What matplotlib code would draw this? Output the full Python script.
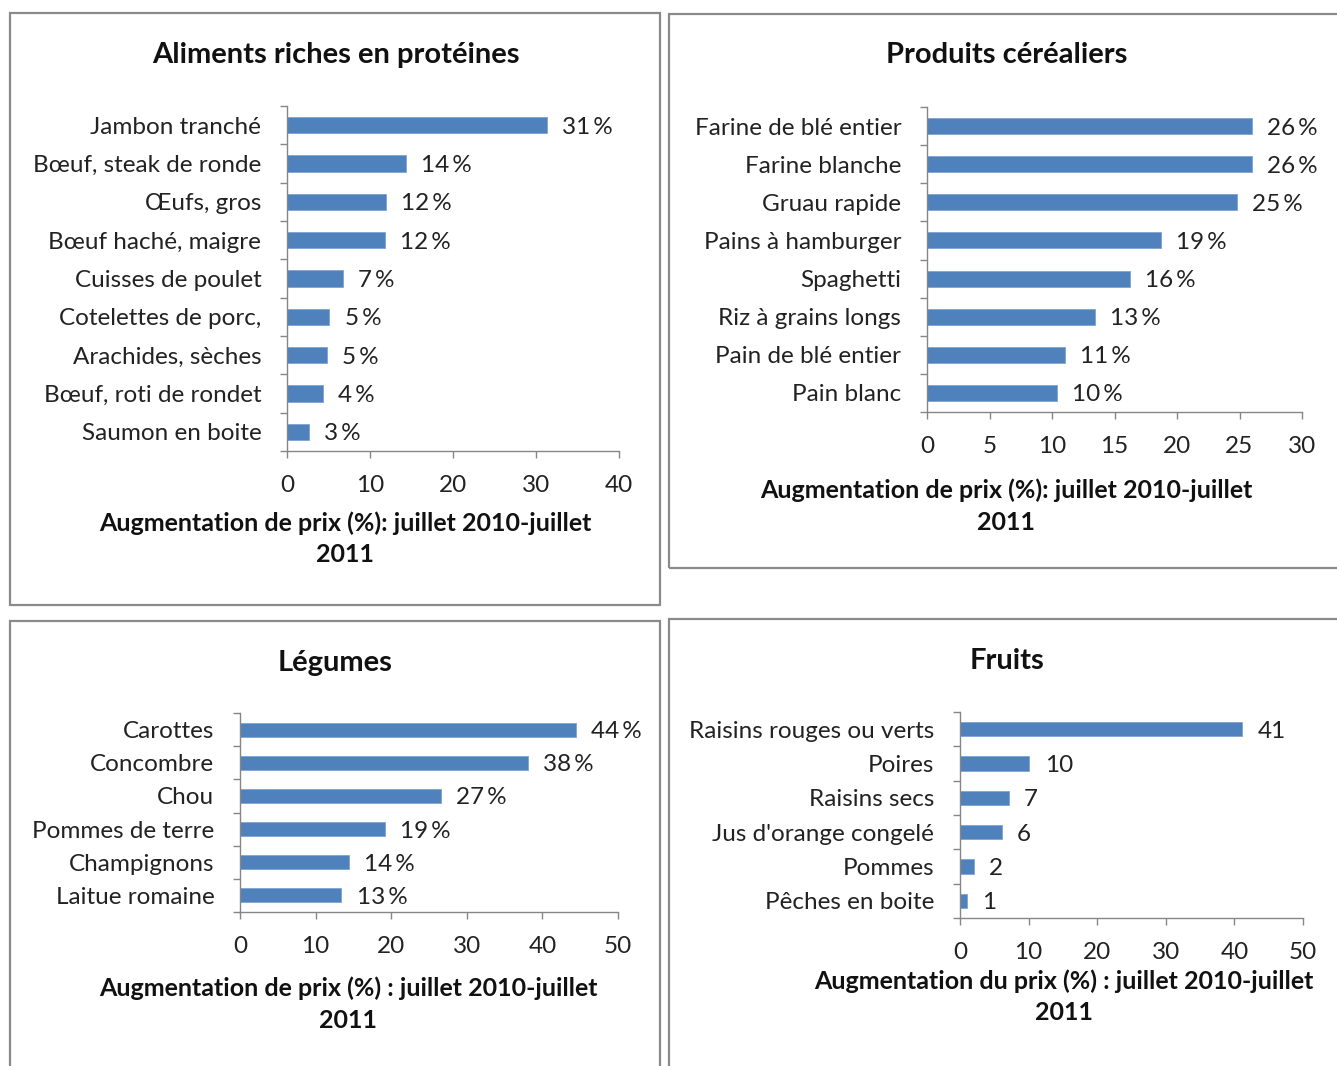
import matplotlib.pyplot as plt
from matplotlib.patches import Rectangle

W, H = 1337, 1066
BLUE = "#4F81BD"
AXIS = "#868686"
FONT = "Lato"

# values, labels are the rounded numbers
prot_cat = ["Jambon tranché", "Bœuf, steak de ronde", "Œufs, gros", "Bœuf haché, maigre",
            "Cuisses de poulet", "Cotelettes de porc,", "Arachides, sèches",
            "Bœuf, roti de rondet", "Saumon en boite"]
prot_val = [31.3, 14.3, 11.9, 11.8, 6.7, 5.1, 4.8, 4.3, 2.6]

cer_cat = ["Farine de blé entier", "Farine blanche", "Gruau rapide", "Pains à hamburger",
           "Spaghetti", "Riz à grains longs", "Pain de blé entier", "Pain blanc"]
cer_val = [26.0, 26.0, 24.8, 18.7, 16.2, 13.4, 11.0, 10.4]

leg_cat = ["Carottes", "Concombre", "Chou", "Pommes de terre", "Champignons", "Laitue romaine"]
leg_val = [44.4, 38.1, 26.6, 19.2, 14.4, 13.4]

fru_cat = ["Raisins rouges ou verts", "Poires", "Raisins secs", "Jus d'orange congelé",
           "Pommes", "Pêches en boite"]
fru_val = [41.1, 10.1, 7.1, 6.1, 2.0, 1.0]

plt.rcParams['font.family'] = [FONT, 'DejaVu Sans']

fig = plt.figure(figsize=(W / 100, H / 100), dpi=100)

LBL = 17.5


def fx(x):
    return x / W


def fy(y):
    return 1 - y / H


def panel_box(x0, y0, x1, y1):
    fig.patches.append(Rectangle((fx(x0), fy(y1)), fx(x1) - fx(x0), fy(y0) - fy(y1),
                                 transform=fig.transFigure, fill=False,
                                 edgecolor="#8a8a8a", linewidth=1.6))


def bar_panel(box, cats, vals, xmax, step, title, title_xy, xlab, xlab_xy, pct=True):
    # box = axis left, top, right, bottom in pixels
    l, t, r, b = box
    ax = fig.add_axes([fx(l), fy(b), fx(r) - fx(l), fy(t) - fy(b)])
    n = len(cats)
    pos = list(range(n))
    ax.barh(pos, vals, height=0.42, color=BLUE, edgecolor="#7fa3d3", linewidth=0.6)
    ax.set_ylim(n - 0.5, -0.5)
    ax.set_xlim(0, xmax)
    ax.set_xticks(range(0, xmax + 1, step))
    ax.set_yticks(pos)
    ax.set_yticklabels(cats)
    ax.set_yticks([p - 0.5 for p in range(n + 1)], minor=True)
    ax.tick_params(axis="y", which="major", length=0, pad=18.5, labelsize=LBL, colors="#222222")
    ax.tick_params(axis="y", which="minor", length=5, width=1, color=AXIS, direction="out")
    ax.tick_params(axis="x", length=5, width=1, color=AXIS, pad=12, labelsize=LBL, labelcolor="#222222")
    for s in ["top", "right"]:
        ax.spines[s].set_visible(False)
    for s in ["left", "bottom"]:
        ax.spines[s].set_color(AXIS)
        ax.spines[s].set_linewidth(1)
    for p, v in zip(pos, vals):
        txt = f"{v:.0f}\u2009%" if pct else f"{v:.0f}"
        ax.annotate(txt, (v, p), xytext=(11, 0), textcoords="offset points",
                    va="center_baseline", ha="left", fontsize=LBL, color="#222222")
    fig.text(fx(title_xy[0]), fy(title_xy[1]), title, ha="center", va="center",
             fontsize=21, fontweight="bold", color="#111111")
    fig.text(fx(xlab_xy[0]), fy(xlab_xy[1]), xlab, ha="center", va="center",
             fontsize=18, fontweight="bold", color="#111111")
    fig.text(fx(xlab_xy[0]), fy(xlab_xy[1] + 32), "2011", ha="center", va="center",
             fontsize=18, fontweight="bold", color="#111111")
    return ax


panel_box(10, 13, 660, 605)
panel_box(669, 14, 1345, 568)
panel_box(10, 621, 660, 1075)
panel_box(669, 619, 1345, 1075)

bar_panel((287, 106, 619, 451), prot_cat, prot_val, 40, 10,
          "Aliments riches en protéines", (336, 55),
          "Augmentation de prix (%): juillet 2010-juillet", (345, 523))
bar_panel((927, 107, 1302, 412), cer_cat, cer_val, 30, 5,
          "Produits céréaliers", (1007, 55),
          "Augmentation de prix (%): juillet 2010-juillet", (1006, 490))
bar_panel((240, 713, 618, 912), leg_cat, leg_val, 50, 10,
          "Légumes", (335, 663),
          "Augmentation de prix (%) : juillet 2010-juillet", (348, 988))
bar_panel((960, 712, 1303, 918), fru_cat, fru_val, 50, 10,
          "Fruits", (1007, 661),
          "Augmentation du prix (%) : juillet 2010-juillet", (1064, 981), pct=False)

fig.savefig("out.png", dpi=100)
